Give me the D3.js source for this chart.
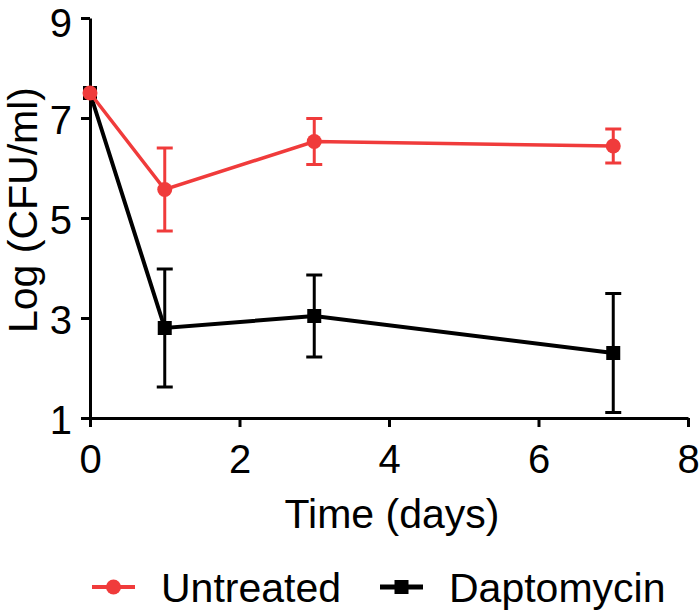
<!DOCTYPE html>
<html>
<head>
<meta charset="utf-8">
<script src="https://cdn.jsdelivr.net/npm/d3@7"></script>
<style>
  html, body { margin: 0; padding: 0; background: #fff; }
  svg { display: block; }
  text { font-family: "Liberation Sans", Arial, Helvetica, sans-serif; fill: #000; }
</style>
</head>
<body>
<svg id="chart" width="700" height="613"></svg>
<script>
// ---- data ----
const days = [0, 1, 3, 7];
const untreatedMean = [7.5, 5.57, 6.53, 6.44];
const untreatedErr  = [0, 0.83, 0.46, 0.34];
const daptoMean     = [7.5, 2.80, 3.04, 2.30];
const daptoErr      = [0, 1.18, 0.82, 1.19];
const xTicks = [0, 2, 4, 6, 8];
const yTicks = [1, 3, 5, 7, 9];
const seriesNames = ["Untreated", "Daptomycin"];
const seriesColors = ["#f03b3b", "#000000"];
const xLabel = "Time (days)";
const yLabel = "Log (CFU/ml)";

const svg = d3.select("#chart");
const x = d3.scaleLinear().domain([0, 8]).range([90, 688]);
const y = d3.scaleLinear().domain([1, 9]).range([418, 18]);

// axes
const xAxis = d3.axisBottom(x).tickValues(xTicks).tickSize(9).tickSizeOuter(0).tickPadding(18).tickFormat(d3.format("d"));
const yAxis = d3.axisLeft(y).tickValues(yTicks).tickSize(9).tickSizeOuter(0).tickPadding(9).tickFormat(d3.format("d"));

const gx = svg.append("g").attr("transform", `translate(0,${y(1)})`).call(xAxis);
const gy = svg.append("g").attr("transform", `translate(${x(0)},0)`).call(yAxis);
[gx, gy].forEach(g => {
  g.select(".domain").attr("stroke", "#000").attr("stroke-width", 3);
  g.selectAll(".tick line").attr("stroke", "#000").attr("stroke-width", 3);
  g.selectAll(".tick text").attr("font-size", 40).attr("font-family", "Liberation Sans, Arial, sans-serif").attr("fill", "#000");
});
gy.selectAll(".tick text").attr("dy", d => d === 9 ? "0.47em" : "0.38em");

// axis titles
svg.append("text").attr("x", (x(0) + x(8)) / 2 + 3).attr("y", 528)
  .attr("text-anchor", "middle").attr("font-size", 41).text(xLabel);
svg.append("text").attr("transform", `translate(37,${y(5) - 8}) rotate(-90)`)
  .attr("text-anchor", "middle").attr("font-size", 41).text(yLabel);

const series = [
  { name: seriesNames[1], mean: daptoMean, err: daptoErr, color: seriesColors[1], shape: "square", lw: 4 },
  { name: seriesNames[0], mean: untreatedMean, err: untreatedErr, color: seriesColors[0], shape: "circle", lw: 3.5 }
];

const line = d3.line().x(d => x(d.day)).y(d => y(d.v));

series.forEach(s => {
  const pts = days.map((d, i) => ({ day: d, v: s.mean[i], e: s.err[i] }));
  const g = svg.append("g");
  g.append("path").datum(pts).attr("d", line).attr("fill", "none")
    .attr("stroke", s.color).attr("stroke-width", s.lw);
  const eb = g.selectAll(".eb").data(pts.filter(p => p.e > 0)).enter().append("g");
  eb.append("line").attr("x1", p => x(p.day)).attr("x2", p => x(p.day))
    .attr("y1", p => y(p.v + p.e)).attr("y2", p => y(p.v - p.e))
    .attr("stroke", s.color).attr("stroke-width", 3);
  [1, -1].forEach(sg => {
    eb.append("line").attr("x1", p => x(p.day) - 8).attr("x2", p => x(p.day) + 8)
      .attr("y1", p => y(p.v + sg * p.e)).attr("y2", p => y(p.v + sg * p.e))
      .attr("stroke", s.color).attr("stroke-width", 3);
  });
  if (s.shape === "circle") {
    g.selectAll("circle").data(pts).enter().append("circle")
      .attr("cx", p => x(p.day)).attr("cy", p => y(p.v)).attr("r", 7.5).attr("fill", s.color);
  } else {
    g.selectAll("rect").data(pts).enter().append("rect")
      .attr("x", p => x(p.day) - 7).attr("y", p => y(p.v) - 7).attr("width", 14).attr("height", 14).attr("fill", s.color);
  }
});

// legend
const legend = [
  { name: seriesNames[0], color: seriesColors[0], shape: "circle", x0: 92 },
  { name: seriesNames[1], color: seriesColors[1], shape: "square", x0: 380 }
];
const ly = 587;
legend.forEach(l => {
  const g = svg.append("g");
  g.append("line").attr("x1", l.x0).attr("x2", l.x0 + 43).attr("y1", ly).attr("y2", ly)
    .attr("stroke", l.color).attr("stroke-width", l.shape === "circle" ? 4 : 5);
  if (l.shape === "circle") {
    g.append("circle").attr("cx", l.x0 + 21.5).attr("cy", ly).attr("r", 7.5).attr("fill", l.color);
  } else {
    g.append("rect").attr("x", l.x0 + 21.5 - 7).attr("y", ly - 7).attr("width", 14).attr("height", 14).attr("fill", l.color);
  }
  g.append("text").attr("x", l.x0 + 69).attr("y", ly + 15).attr("font-size", 41).text(l.name);
});
</script>
</body>
</html>
